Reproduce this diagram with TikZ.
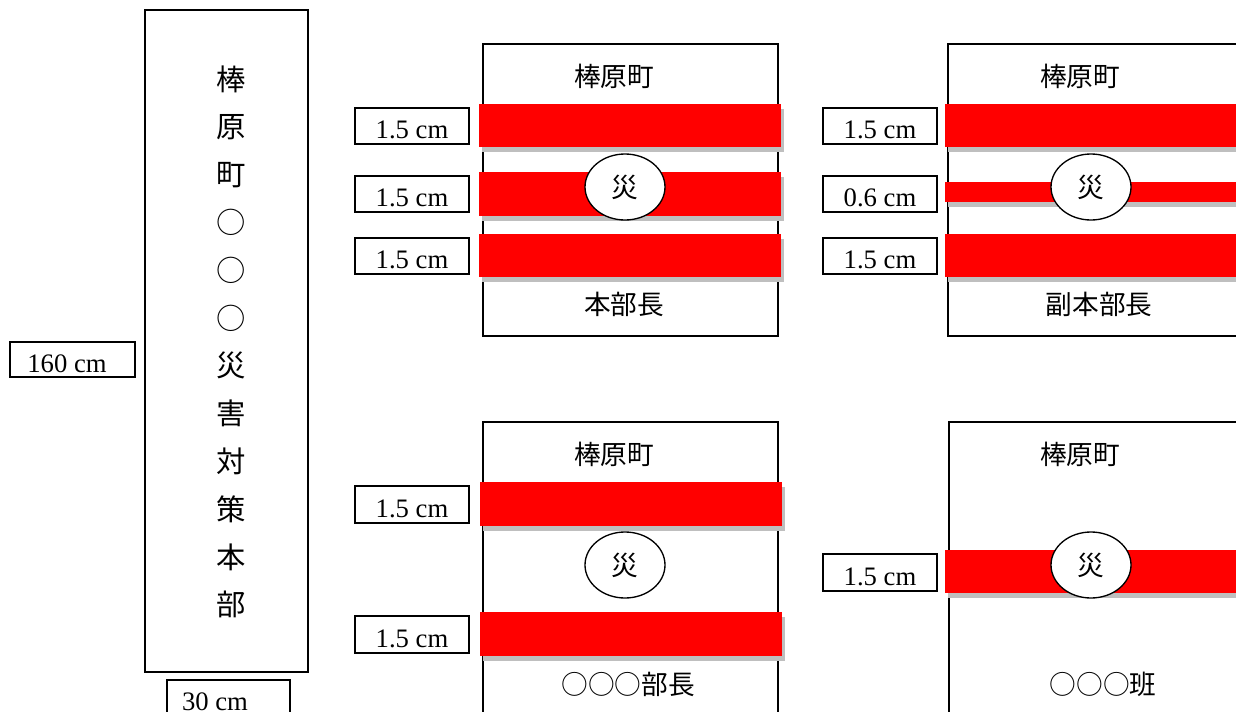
\documentclass[tikz,border=0pt]{standalone}
\usepackage{fontspec}
\setmainfont{Liberation Serif}
\newfontfamily\cjk{Noto Sans CJK JP}
\usetikzlibrary{shapes.geometric}
\newcommand\labfont{\fontsize{20}{24}\selectfont}
\newcommand\jfont{\cjk\fontsize{20}{24}\selectfont}
\newcommand\vfont{\cjk\fontsize{22}{26}\selectfont}
\begin{document}
\begin{tikzpicture}[x=0.75pt,y=-0.75pt,
  frame/.style={draw=black,line width=1pt},
  labbox/.style={draw=black,line width=1.3pt},
  stripe/.style={fill=red},
  shade/.style={fill=black!25},
  seal/.style={draw=black,line width=1pt,fill=white,ellipse,inner sep=0pt,
    minimum width=60pt,minimum height=49.5pt,font=\jfont},
  jtext/.style={inner sep=0pt,font=\jfont},
  vtext/.style={inner sep=0pt,font=\vfont},
  labtext/.style={inner sep=0pt,anchor=base,font=\labfont}]
\useasboundingbox (0,0) rectangle (1236,711);
\clip (0,0) rectangle (1236,711);

% tall banner
\draw[frame] (145,10) rectangle (308,672);
\foreach \c [count=\i from 0] in {棒,原,町,○,○,○,災,害,対,策,本,部}
  \node[vtext] (v\i) at (231,{79+47.8*\i}) {\c};
\draw[labbox] (10,342) rectangle (135,377);
\node[labtext] (h160) at (67,372) {160 cm};
\draw[labbox] (167,680) rectangle (290,725);
\node[labtext] (w30) at (215,710) {30 cm};

% top-left
\draw[frame] (483,44) rectangle (778,336);
\foreach \a/\b in {104/147,172/216,234/277}{
  \fill[shade] (482,\a+5) rectangle (784,\b+5);
  \fill[stripe] (479,\a) rectangle (781,\b);}
\node[seal] (s1) at (625,187) {災};
\node[jtext] (t1) at (614,76) {棒原町};
\node[jtext] (b1) at (624,304) {本部長};
\foreach \a/\b/\t [count=\i] in {108/144/1.5,176/212/1.5,238/274/1.5}{
  \draw[labbox] (355,\a) rectangle (469,\b);
  \node[labtext] (la\i) at (412,\b-6) {\t\ cm};}

% top-right
\draw[frame] (948,44) rectangle (1260,336);
\foreach \a/\b in {104/147,182/202,234/277}{
  \fill[shade] (948,\a+5) rectangle (1260,\b+5);
  \fill[stripe] (945,\a) rectangle (1260,\b);}
\node[seal] (s2) at (1091,187) {災};
\node[jtext] (t2) at (1080,76) {棒原町};
\node[jtext] (b2) at (1099,304) {副本部長};
\foreach \a/\b/\t [count=\i] in {108/144/1.5,176/212/0.6,238/274/1.5}{
  \draw[labbox] (823,\a) rectangle (937,\b);
  \node[labtext] (lb\i) at (880,\b-6) {\t\ cm};}

% bottom-left
\draw[frame] (483,422) rectangle (778,740);
\foreach \a/\b in {482/526,612/656}{
  \fill[shade] (483,\a+5) rectangle (785,\b+5);
  \fill[stripe] (480,\a) rectangle (782,\b);}
\node[seal] (s3) at (625,565) {災};
\node[jtext] (t3) at (614,454) {棒原町};
\node[jtext] (b3) at (628,684) {○○○部長};
\foreach \a/\b [count=\i] in {486/523,616/653}{
  \draw[labbox] (355,\a) rectangle (469,\b);
  \node[labtext] (lc\i) at (412,\b-6) {1.5 cm};}

% bottom-right
\draw[frame] (949,422) rectangle (1260,740);
\fill[shade] (948,555) rectangle (1260,598);
\fill[stripe] (945,550) rectangle (1260,593);
\node[seal] (s4) at (1091,565) {災};
\node[jtext] (t4) at (1080,454) {棒原町};
\node[jtext] (b4) at (1103,684) {○○○班};
\draw[labbox] (823,554) rectangle (937,591);
\node[labtext] (ld1) at (880,585) {1.5 cm};
\end{tikzpicture}
\end{document}
